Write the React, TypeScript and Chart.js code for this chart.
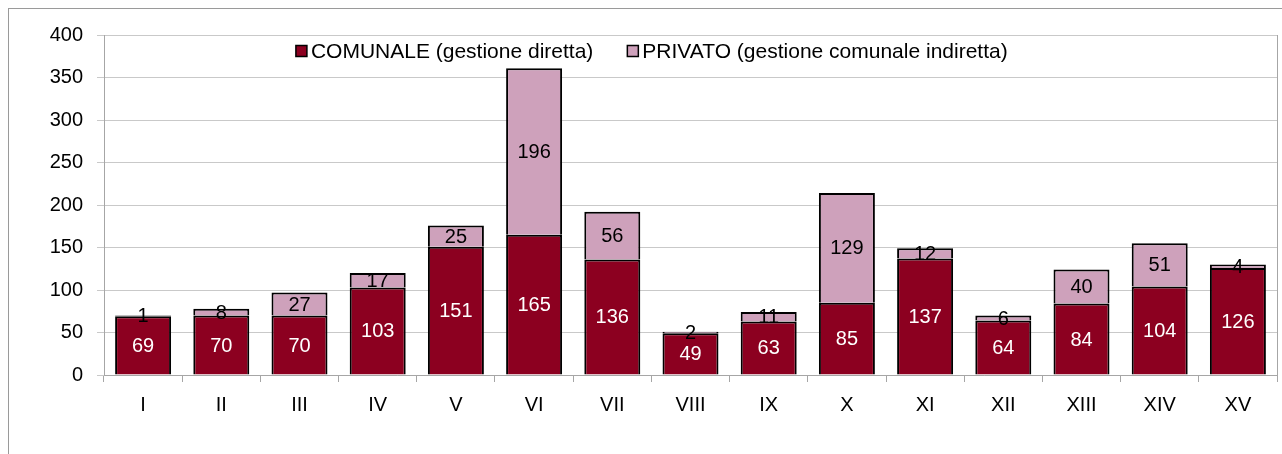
import React, { useEffect, useRef } from "react";
import { Chart, registerables } from "chart.js";

Chart.register(...registerables);

const categories = ["I", "II", "III", "IV", "V", "VI", "VII", "VIII", "IX", "X", "XI", "XII", "XIII", "XIV", "XV"];
const comunale = [69, 70, 70, 103, 151, 165, 136, 49, 63, 85, 137, 64, 84, 104, 126];
const privato = [1, 8, 27, 17, 25, 196, 56, 2, 11, 129, 12, 6, 40, 51, 4];
const seriesLabels = ["COMUNALE (gestione diretta)", "PRIVATO (gestione comunale indiretta)"];
const seriesColors = ["#8C0020", "#CEA1BB"];
const labelColors = ["#FFFFFF", "#000000"];
const yMin = 0;
const yMax = 400;
const yStep = 50;

const FONT = "'Liberation Sans', Arial, sans-serif";
const AXIS_GRAY = "#A6A6A6";
const GRID_GRAY = "#C9C9C9";

const valueLabels = {
  id: "valueLabels",
  afterDatasetsDraw(chart: any) {
    const ctx = chart.ctx;
    ctx.save();
    ctx.font = `20px ${FONT}`;
    ctx.textAlign = "center";
    ctx.textBaseline = "middle";
    chart.data.datasets.forEach((ds: any, di: number) => {
      const meta = chart.getDatasetMeta(di);
      meta.data.forEach((el: any, i: number) => {
        const v = ds.data[i];
        const { x, y, base } = el.getProps(["x", "y", "base"], true);
        ctx.fillStyle = labelColors[di];
        ctx.fillText(String(v), x, (y + base) / 2 + 1);
      });
    });
    ctx.restore();
  },
};

const rightEdge = {
  id: "rightEdge",
  afterDraw(chart: any) {
    const { ctx, chartArea } = chart;
    ctx.save();
    ctx.strokeStyle = AXIS_GRAY;
    ctx.lineWidth = 1;
    ctx.beginPath();
    const x = Math.round(chartArea.right) + 0.5;
    ctx.moveTo(x, chartArea.top);
    ctx.lineTo(x, chartArea.bottom + 7);
    ctx.stroke();
    ctx.restore();
  },
};

const customLegend = {
  id: "customLegend",
  afterDraw(chart: any) {
    const { ctx, chartArea } = chart;
    ctx.save();
    ctx.font = `21px ${FONT}`;
    ctx.textBaseline = "middle";
    ctx.textAlign = "left";
    const box = 11;
    const gap = 4;
    const itemGap = 34;
    const widths = seriesLabels.map((l) => box + gap + ctx.measureText(l).width);
    const total = widths.reduce((a, b) => a + b, 0) + itemGap * (widths.length - 1);
    const cx = chartArea.left + chartArea.width * 0.467;
    let x = cx - total / 2;
    const y = chartArea.top + 16;
    seriesLabels.forEach((l, i) => {
      ctx.fillStyle = seriesColors[i];
      ctx.fillRect(x, y - box / 2, box, box);
      ctx.strokeStyle = "#000";
      ctx.lineWidth = 1.5;
      ctx.strokeRect(x, y - box / 2, box, box);
      ctx.fillStyle = "#000";
      ctx.fillText(l, x + box + gap, y + 1);
      x += widths[i] + itemGap;
    });
    ctx.restore();
  },
};

export default function App() {
  const ref = useRef<HTMLCanvasElement | null>(null);
  useEffect(() => {
    if (!ref.current) return;
    const chart = new Chart(ref.current, {
      type: "bar",
      data: {
        labels: categories,
        datasets: [
          {
            label: seriesLabels[0],
            data: comunale,
            backgroundColor: seriesColors[0],
            borderColor: "#000",
            borderWidth: 2,
            categoryPercentage: 1,
            barPercentage: 0.716,
          },
          {
            label: seriesLabels[1],
            data: privato,
            backgroundColor: seriesColors[1],
            borderColor: "#000",
            borderWidth: 2,
            categoryPercentage: 1,
            barPercentage: 0.716,
          },
        ],
      },
      options: {
        animation: false,
        responsive: false,
        layout: { padding: { top: 22, right: 5, left: 0, bottom: 0 } },
        plugins: {
          legend: { display: false },
          tooltip: { enabled: false },
          title: { display: false },
        },
        scales: {
          x: {
            stacked: true,
            offset: true,
            grid: {
              display: true,
              offset: true,
              drawOnChartArea: false,
              drawTicks: true,
              tickLength: 7,
              color: AXIS_GRAY,
            },
            border: { display: true, color: AXIS_GRAY },
            ticks: {
              color: "#000",
              font: { family: FONT, size: 20 },
              padding: 11,
              maxRotation: 0,
              autoSkip: false,
            },
            afterFit: (s: any) => {
              s.height = 79;
            },
          },
          y: {
            stacked: true,
            min: yMin,
            max: yMax,
            ticks: {
              stepSize: yStep,
              color: "#000",
              font: { family: FONT, size: 20 },
              padding: 14,
            },
            grid: { color: GRID_GRAY, tickLength: 7, drawTicks: true },
            border: { display: true, color: AXIS_GRAY },
            afterFit: (s: any) => {
              s.width = 95;
            },
          },
        },
      },
      plugins: [valueLabels, rightEdge, customLegend],
    });
    return () => chart.destroy();
  }, []);

  return (
    <div
      style={{
        position: "fixed",
        left: 8,
        top: 8,
        width: 1273,
        height: 445,
        borderLeft: "1px solid #9A9A9A",
        borderTop: "1px solid #9A9A9A",
        background: "#fff",
      }}
    >
      <canvas ref={ref} width={1273} height={445} style={{ display: "block" }} />
    </div>
  );
}
